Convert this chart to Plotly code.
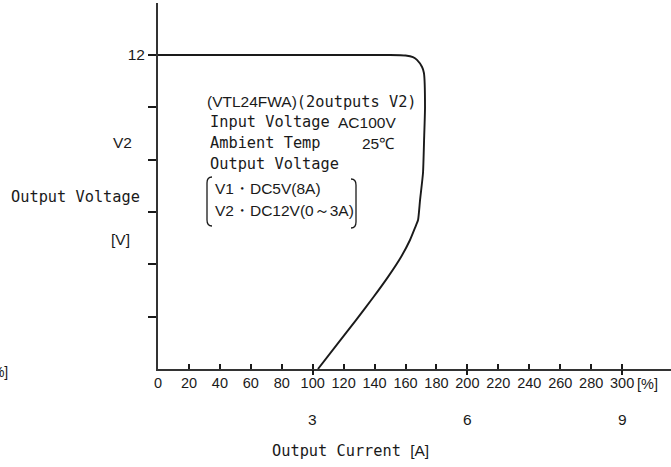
import plotly.graph_objects as go

# ---- data ----
load_pct = [0, 150, 160, 164.8, 167.4, 170.7, 171.9, 172.6, 172.0, 171.3, 169.4,
            168.1, 166.1, 162.9, 157.1, 148.7, 139.3, 128.0, 116.4, 103.4]
voltage_v = [12.0, 12.0, 11.98, 11.92, 11.81, 11.54, 11.31, 10.01, 8.75, 7.49, 6.46,
             5.69, 5.39, 4.93, 4.28, 3.52, 2.75, 1.87, 0.99, 0.0]

x_ticks = [0, 20, 40, 60, 80, 100, 120, 140, 160, 180, 200, 220, 240, 260, 280, 300]
x_major = [100, 200, 300]
amp_labels = ["3", "6", "9"]
y_ticks = [2, 4, 6, 8, 10, 12]
y_ticktext = ["", "", "", "", "", "12"]

W, H = 671, 467
L, R, T, B = 158, 0, 3, 98
PW, PH = W - L - R, H - T - B

def px(x):
    return (x - L) / PW

def py(y):
    return (H - B - y) / PH

MONO = "DejaVu Sans Mono, monospace"
MONO_SIZE = 15.3
SANS = "Liberation Sans, Arial, sans-serif"
SANS_SIZE = 15.5
INK = "#1a1a1a"

fig = go.Figure()
fig.add_trace(go.Scatter(
    x=load_pct, y=voltage_v, mode="lines",
    line=dict(color=INK, width=1.9, shape="spline", smoothing=0.5),
    hoverinfo="skip", showlegend=False))
# invisible trace to carry the secondary axis used for the long ticks
fig.add_trace(go.Scatter(x=[0], y=[0], xaxis="x2", mode="markers",
                         marker=dict(opacity=0), showlegend=False, hoverinfo="skip"))

fig.update_layout(
    width=W, height=H,
    margin=dict(l=L, r=R, t=T, b=B, autoexpand=False),
    paper_bgcolor="white", plot_bgcolor="white",
    xaxis=dict(range=[0, PW / 1.547], tickvals=x_ticks,
               ticktext=[str(v) for v in x_ticks],
               ticks="inside", ticklen=5, tickwidth=1.5, tickcolor=INK,
               showline=True, linecolor="#333", linewidth=2,
               showgrid=False, zeroline=False, automargin=False,
               tickfont=dict(family=SANS, size=14.5, color=INK)),
    xaxis2=dict(range=[0, PW / 1.547], overlaying="x", side="bottom",
                tickvals=x_major, ticks="outside", ticklen=5, tickwidth=1.5,
                tickcolor=INK, showticklabels=False, showline=False,
                showgrid=False, zeroline=False),
    yaxis=dict(range=[0, (H - B - T) / 26.17], tickvals=y_ticks, ticktext=y_ticktext,
               ticks="outside", ticklen=8, tickwidth=1.5, tickcolor=INK,
               showline=True, linecolor="#333", linewidth=2,
               showgrid=False, zeroline=False, automargin=False,
               tickfont=dict(family=SANS, size=SANS_SIZE, color=INK)),
)

ann = []
def text(x, y, s, family, size, anchor="left"):
    ann.append(dict(x=px(x), y=py(y), xref="paper", yref="paper", text=s,
                    showarrow=False, xanchor=anchor, yanchor="middle",
                    font=dict(family=family, size=size, color=INK)))

# left side labels
text(122, 142, "V2", SANS, SANS_SIZE, "center")
text(75, 197, "Output Voltage", MONO, MONO_SIZE, "center")
text(120, 240, "[V]", SANS, SANS_SIZE, "center")
text(10, 372, "[%]", SANS, 14, "right")
# x-axis extras
text(635, 384, "[%]", SANS, 14.5, "left")
for v, lab in zip(x_major, amp_labels):
    ann.append(dict(x=v, y=0, xref="x", yref="paper", yshift=-50, text=lab,
                    showarrow=False, xanchor="center", yanchor="middle",
                    font=dict(family=SANS, size=SANS_SIZE, color=INK)))
n = f"font-family:Liberation Sans;font-size:{SANS_SIZE}px"
text(350, 451, f"Output Current <span style='{n}'>[A]</span>", MONO, MONO_SIZE, "center")

# annotation block inside the chart
text(205, 102, f"<span style='{n}'>(VTL24FWA)</span>(2outputs V2)", MONO, MONO_SIZE)
text(208, 122, "Input Voltage", MONO, MONO_SIZE)
text(398, 122, "AC100V", SANS, SANS_SIZE, "right")
text(208, 143, "Ambient Temp", MONO, MONO_SIZE)
text(397, 143, "25℃", SANS, SANS_SIZE, "right")
text(208, 164, "Output Voltage", MONO, MONO_SIZE)
text(213, 188, "V1・DC5V(8A)", SANS, SANS_SIZE)
text(213, 210, "V2・DC12V(0～3A)", SANS, SANS_SIZE)
fig.update_layout(annotations=ann)

# brackets around the output voltage lines
def bracket(x_edge, x_in, y0, y1):
    return (f"M {px(x_in)} {py(y0)} Q {px(x_edge)} {py(y0)} {px(x_edge)} {py(y0 + 6)} "
            f"L {px(x_edge)} {py(y1 - 6)} Q {px(x_edge)} {py(y1)} {px(x_in)} {py(y1)}")

fig.add_shape(type="path", path=bracket(207, 212, 177, 226), xref="paper", yref="paper",
              line=dict(color=INK, width=1.3))
fig.add_shape(type="path", path=bracket(356, 351, 179, 228), xref="paper", yref="paper",
              line=dict(color=INK, width=1.3))

fig.write_html("out.html", config={"displayModeBar": False},
               post_script="document.body.style.margin='0px';")
